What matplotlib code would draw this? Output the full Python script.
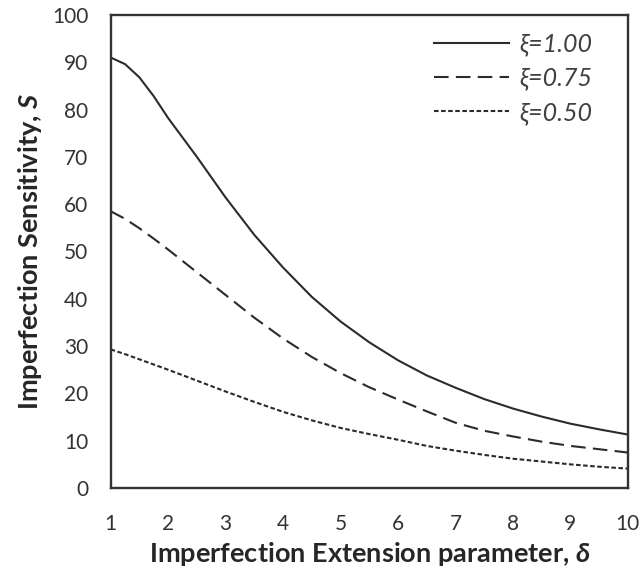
import matplotlib
matplotlib.use("Agg")
import matplotlib.pyplot as plt

delta = [1, 1.25, 1.5, 1.75, 2, 2.5, 3, 3.5, 4, 4.5, 5, 5.5, 6, 6.5, 7, 7.5, 8, 8.5, 9, 9.5, 10]
s_100 = [91.0, 89.6, 86.8, 82.8, 78.2, 70.0, 61.4, 53.5, 46.6, 40.4, 35.2, 30.8, 27.0, 23.8,
         21.2, 18.8, 16.8, 15.1, 13.6, 12.4, 11.3]
s_075 = [58.5, 56.9, 54.9, 52.7, 50.4, 45.6, 40.8, 36.0, 31.6, 27.7, 24.3, 21.3, 18.7, 16.2,
         13.8, 12.1, 10.9, 9.8, 8.9, 8.2, 7.5]
s_050 = [29.3, 28.3, 27.2, 26.1, 25.0, 22.7, 20.4, 18.2, 16.1, 14.3, 12.7, 11.4, 10.2, 8.9,
         7.9, 7.0, 6.2, 5.6, 5.0, 4.5, 4.1]
labels = ["ξ=1.00", "ξ=0.75", "ξ=0.50"]
xticks = list(range(1, 11))
yticks = list(range(0, 101, 10))

plt.rcParams['font.family'] = ['Lato', 'DejaVu Sans']
plt.rcParams['mathtext.fontset'] = 'custom'
plt.rcParams['mathtext.bfit'] = 'Lato:bold:italic'
plt.rcParams['mathtext.it'] = 'Lato:italic'
plt.rcParams['mathtext.rm'] = 'Lato'

fig = plt.figure(figsize=(6.42, 5.74), dpi=100)
ax = fig.add_axes([0.1724, 0.1498, 0.978 - 0.1724, 0.974 - 0.1498])

col = '#2b2b2b'
ax.plot(delta, s_100, color=col, lw=1.5, label=labels[0])
ax.plot(delta, s_075, color=col, lw=1.5, dashes=(7, 3.5), label=labels[1])
ax.plot(delta, s_050, color=col, lw=1.5, dashes=(2.2, 1.2), label=labels[2])

ax.set_xlim(1, 10)
ax.set_ylim(0, 100)
ax.set_xticks(xticks)
ax.set_yticks(yticks)
ax.tick_params(length=0, labelsize=15, labelcolor='#333333')
ax.tick_params(axis='x', pad=19)
ax.tick_params(axis='y', pad=16)
for sp in ax.spines.values():
    sp.set_color('#333333')
    sp.set_linewidth(1.7)

ax.set_xlabel(r"Imperfection Extension parameter, $\mathbfit{\delta}$", fontsize=19.5,
              fontweight='bold', color='#262626', labelpad=4)
ax.set_ylabel(r"Imperfection Sensitivity, $\mathbfit{S}$", fontsize=19.5,
              fontweight='bold', color='#262626', labelpad=6)

leg = ax.legend(loc='upper right', bbox_to_anchor=(0.965, 1.0), frameon=False,
                handlelength=3.0, handletextpad=0.4,
                labelspacing=0.42, borderaxespad=0.3, borderpad=0.4,
                prop={'style': 'italic', 'size': 18})
for t in leg.get_texts():
    t.set_color('#404040')

fig.savefig('out.png', dpi=100)
